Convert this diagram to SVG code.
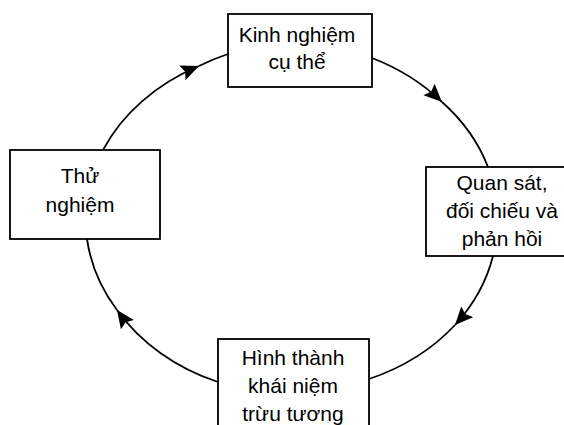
<svg xmlns="http://www.w3.org/2000/svg" width="564" height="425" viewBox="0 0 564 425">
<style>
.box{fill:#fff;stroke:#000;stroke-width:1.8}
.t{font-family:"Liberation Sans",Arial,sans-serif;font-size:21px;fill:#000;text-anchor:middle}
.c{fill:none;stroke:#000;stroke-width:1.8}
</style>
<defs>
<marker id="ah" markerUnits="userSpaceOnUse" markerWidth="20" markerHeight="18" refX="18" refY="8" orient="auto">
<path d="M0,0 L18,8 L0,16 L3,8 z" fill="#000"/>
</marker>
</defs>
<rect width="564" height="425" fill="#fff"/>
<g id="connectors">
<path class="c" d="M103,150 A207,172 0 0 1 199,66" marker-end="url(#ah)"/>
<path class="c" d="M199,66 A207,172 0 0 1 228,54"/>
<path class="c" d="M372,58 A207,172 0 0 1 442,102" marker-end="url(#ah)"/>
<path class="c" d="M442,102 A207,172 0 0 1 488,167"/>
<path class="c" d="M493,256 A207,172 0 0 1 455,325" marker-end="url(#ah)"/>
<path class="c" d="M455,325 A207,172 0 0 1 369,379"/>
<path class="c" d="M218,382 A207,172 0 0 1 117,310" marker-end="url(#ah)"/>
<path class="c" d="M117,310 A207,172 0 0 1 87,239"/>
</g>
<g id="n1">
<rect class="box" x="228" y="14" width="144" height="73"/>
<text class="t" x="297" y="42">Kinh nghiệm</text>
<text class="t" x="297" y="69">cụ thể</text>
</g>
<g id="n2">
<rect class="box" x="426" y="167" width="140" height="89"/>
<text class="t" x="502" y="190">Quan sát,</text>
<text class="t" x="502" y="218">đối chiếu và</text>
<text class="t" x="502" y="246">phản hồi</text>
</g>
<g id="n3">
<rect class="box" x="218" y="339" width="151" height="95"/>
<text class="t" x="293" y="365">Hình thành</text>
<text class="t" x="293" y="393">khái niệm</text>
<text class="t" x="293" y="421">trừu tương</text>
</g>
<g id="n4">
<rect class="box" x="10" y="150" width="150" height="89"/>
<text class="t" x="80" y="183">Thử</text>
<text class="t" x="80" y="212">nghiệm</text>
</g>
</svg>
